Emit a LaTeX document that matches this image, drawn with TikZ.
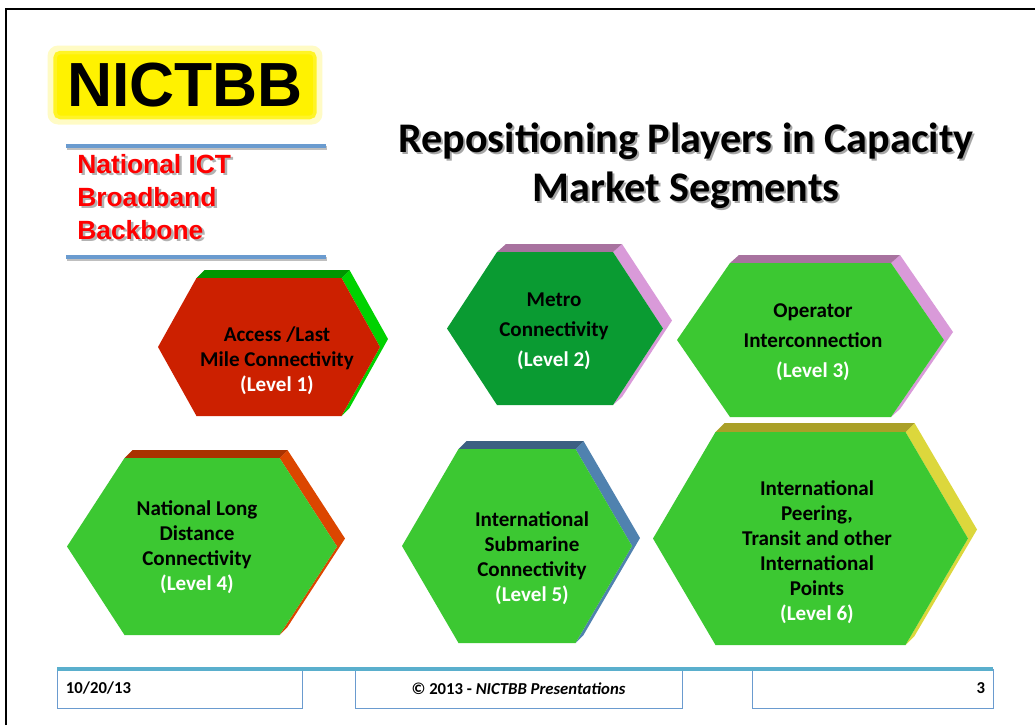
\documentclass[tikz,border=0pt]{standalone}
\usepackage{fontspec}
\setmainfont{Carlito}
\newfontfamily\arialfont{Liberation Sans}
\usepackage{xcolor}
\definecolor{Brick Red}{HTML}{CC2000}
\definecolor{Forest}{HTML}{0A9B32}
\definecolor{Lawn}{HTML}{3CC832}
\definecolor{Deep Green}{HTML}{009600}
\definecolor{Bright Green}{HTML}{00D200}
\definecolor{Old Mauve}{HTML}{A8729F}
\definecolor{Orchid}{HTML}{D99AD9}
\definecolor{Rust}{HTML}{AA3200}
\definecolor{Blaze}{HTML}{DC4600}
\definecolor{Slate}{HTML}{3C5F82}
\definecolor{Steel}{HTML}{5082AF}
\definecolor{Olive}{HTML}{AAA028}
\definecolor{Mustard}{HTML}{DCD73C}
\definecolor{Rule Blue}{HTML}{6A9BCF}
\definecolor{Foot Blue}{HTML}{5AAFCD}
\colorlet{cRed}{Brick Red}
\colorlet{cForest}{Forest}
\colorlet{cLawn}{Lawn}
\colorlet{cTopGreen}{Deep Green}
\colorlet{cSideGreen}{Bright Green}
\colorlet{cTopMauve}{Old Mauve}
\colorlet{cSideMauve}{Orchid}
\colorlet{cTopRust}{Rust}
\colorlet{cSideRust}{Blaze}
\colorlet{cTopSlate}{Slate}
\colorlet{cSideSlate}{Steel}
\colorlet{cTopOlive}{Olive}
\colorlet{cSideOlive}{Mustard}
\usepackage{tikz}
\usetikzlibrary{calc, positioning}
\tikzset{
	x=0.02cm,
	y=-0.02cm,
	hexlabel/.style={
		align=center,
		inner sep=0pt,
		font=\bfseries\fontsize{12}{14.2}\selectfont
	},
	widelabel/.style={
		hexlabel,
		font=\bfseries\fontsize{12}{17}\selectfont
	},
	sidebar/.style={
		draw=Rule Blue,
		line width=2.8pt
	},
	footbox/.style={
		draw=Rule Blue,
		line width=.5pt,
		minimum height=0.78cm,
		inner sep=0pt
	},
	foottext/.style={
		inner sep=0pt,
		font=\bfseries\fontsize{9.5}{11}\selectfont
	}
}

\begin{document}
\begin{tikzpicture}
		\useasboundingbox (0,0) rectangle (1035,725);
		\fill[white] (0,0) rectangle (1035,725);

		% slide frame
		\coordinate (f0) at (6,725);
		\coordinate (f1) at (6,9);
		\coordinate (f2) at (1035,9);
		\draw[line width=1.1pt] (f0) -- (f1) -- (f2);

		% logo
		\node[fill=yellow!45, opacity=.5, rounded corners=6pt, minimum width=5.5cm, minimum height=1.58cm] (glow) at (185,85) {};
		\node[fill=yellow, draw=yellow!85!white, line width=2pt, rounded corners=3pt, minimum width=5.2cm, minimum height=1.3cm,
			font=\arialfont\bfseries\fontsize{35.5}{35.5}\selectfont] (logo) at (185,85) {NICTBB};

		\coordinate (r0) at (66,146);
		\coordinate (r1) at (326,146);
		\coordinate (r2) at (66,257);
		\coordinate (r3) at (326,257);
		\draw[sidebar, draw=black!25] ($(r0)+(1,2)$) -- ($(r1)+(1,2)$);
		\draw[sidebar, draw=black!25] ($(r2)+(1,2)$) -- ($(r3)+(1,2)$);
		\draw[sidebar] (r0) -- (r1);
		\draw[sidebar] (r2) -- (r3);

		\node[anchor=north west, align=left, inner sep=0pt, text=black!30,
			font=\arialfont\bfseries\fontsize{15}{18.7}\selectfont] (namesh) at (79.5,156.5) {National ICT\\Broadband\\Backbone};
		\node[anchor=north west, align=left, inner sep=0pt, text=red,
			font=\arialfont\bfseries\fontsize{15}{18.7}\selectfont] (name) at (77,154) {National ICT\\Broadband\\Backbone};

		% title
		\node[anchor=north, align=center, inner sep=0pt, text=black!35,
			font=\bfseries\fontsize{24}{28.4}\selectfont] (titlesh) at (688,124) {Repositioning Players in Capacity\\Market Segments};
		\node[anchor=north, align=center, inner sep=0pt,
			font=\bfseries\fontsize{24}{28.4}\selectfont] (title) at (686,122) {Repositioning Players in Capacity\\Market Segments};

		% hexagon prisms: front, top face, side face
		\foreach \n/\cx/\cy/\a/\b/\h/\dx/\dy/\cf/\ct/\cs in {
			1/269/347/111/72.5/69/8/8/cRed/cTopGreen/cSideGreen,
			2/555/328.5/108/58/76.5/9/8/cForest/cTopMauve/cSideMauve,
			3/810.5/340/133.5/80.5/77/9/8/cLawn/cTopMauve/cSideMauve,
			4/202/546.5/135/77.5/88.5/8/8/cLawn/cTopRust/cSideRust,
			5/517/546/115/58.5/97/8/8/cLawn/cTopSlate/cSideSlate,
			6/810.5/538.5/157.5/95/106.5/9/9/cLawn/cTopOlive/cSideOlive} {
			\coordinate (hex\n) at (\cx,\cy);
			\fill[\cs] (\cx+\b+\dx,\cy-\h-\dy) -- (\cx+\a+\dx,\cy-\dy) -- (\cx+\b+\dx,\cy+\h-\dy)
				-- (\cx+\b,\cy+\h) -- (\cx+\a,\cy) -- (\cx+\b,\cy-\h) -- cycle;
			\fill[\ct] (\cx-\b,\cy-\h) -- (\cx-\b+\dx,\cy-\h-\dy) -- (\cx+\b+\dx,\cy-\h-\dy) -- (\cx+\b,\cy-\h) -- cycle;
			\fill[\cf] (\cx-\a,\cy) -- (\cx-\b,\cy-\h) -- (\cx+\b,\cy-\h) -- (\cx+\a,\cy)
				-- (\cx+\b,\cy+\h) -- (\cx-\b,\cy+\h) -- cycle;
		}

		\node[hexlabel] (t1) at (277,360.5) {Access /Last\\Mile Connectivity\\\textcolor{white}{(Level 1)}};
		\node[widelabel] (t2) at (554,331) {Metro\\Connectivity\\\textcolor{white}{(Level 2)}};
		\node[widelabel] (t3) at (813,342) {Operator\\Interconnection\\\textcolor{white}{(Level 3)}};
		\node[hexlabel] (t4) at (197,547) {National Long\\Distance\\Connectivity\\\textcolor{white}{(Level 4)}};
		\node[hexlabel] (t5) at (532,558) {International\\Submarine\\Connectivity\\\textcolor{white}{(Level 5)}};
		\node[hexlabel] (t6) at (817,552) {International\\Peering,\\Transit and other\\International\\Points\\\textcolor{white}{(Level 6)}};

		% footer
		\node[footbox, minimum width=4.9cm] (fbox1) at (179.5,688.5) {};
		\node[footbox, minimum width=6.54cm] (fbox2) at (518.5,688.5) {};
		\node[footbox, minimum width=4.82cm] (fbox3) at (872.5,688.5) {};
		\coordinate (fr0) at (57,669);
		\coordinate (fr1) at (993,669);
		\draw[draw=Foot Blue, line width=2.2pt] (fr0) -- (fr1);

		\node[foottext, anchor=west] (date) at ($(fbox1.west)+(9,0)$) {10/20/13};
		\node[foottext] (copy) at (fbox2) {© 2013 - \textit{NICTBB Presentations}};
		\node[foottext, anchor=east] (page) at ($(fbox3.east)+(-8,0)$) {3};
	\end{tikzpicture}
\end{document}
